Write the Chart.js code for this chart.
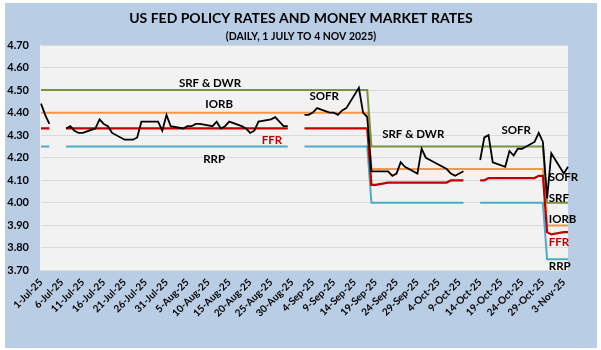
<!DOCTYPE html>
<html><head><meta charset="utf-8">
<script src="https://cdn.jsdelivr.net/npm/chart.js@4.4.1/dist/chart.umd.min.js"></script>
<style>html,body{margin:0;padding:0;background:#fff}#wrap{width:601px;height:350px}</style>
</head><body><div id="wrap"><canvas id="c" width="601" height="350"></canvas></div>
<script>
const _ = null;
const FONT = 'Lato, "Open Sans", "DejaVu Sans", sans-serif';

// Calendar categories: 1 Jul 2025 .. 4 Nov 2025 (daily)
const MONTHS = ['Jan','Feb','Mar','Apr','May','Jun','Jul','Aug','Sep','Oct','Nov','Dec'];
const categories = [];
for (let t = Date.UTC(2025,6,1); t <= Date.UTC(2025,10,4); t += 86400000) {
  const d = new Date(t);
  categories.push(d.getUTCDate() + '-' + MONTHS[d.getUTCMonth()] + '-25');
}

const xTickLabels = ['1-Jul-25','6-Jul-25','11-Jul-25','16-Jul-25','21-Jul-25','26-Jul-25','31-Jul-25',
  '5-Aug-25','10-Aug-25','15-Aug-25','20-Aug-25','25-Aug-25','30-Aug-25','4-Sep-25','9-Sep-25',
  '14-Sep-25','19-Sep-25','24-Sep-25','29-Sep-25','4-Oct-25','9-Oct-25','14-Oct-25','19-Oct-25',
  '24-Oct-25','29-Oct-25','3-Nov-25'];

// SOFR (daily, null = weekend / holiday)
const sofr = [
  // Jul
  4.44,4.39,4.35,_,_,_,4.33,4.34,4.32,4.31,4.31,_,_,4.33,4.37,4.35,4.34,4.31,_,_,4.28,4.28,4.28,4.29,4.36,_,_,4.36,4.36,4.32,4.39,
  // Aug
  4.34,_,_,4.33,4.34,4.34,4.35,4.35,_,_,4.34,4.36,4.33,4.34,4.36,_,_,4.34,4.33,4.31,4.32,4.36,_,_,4.37,4.38,4.36,4.34,4.34,_,_,
  // Sep
  _,4.39,4.39,4.40,4.42,_,_,4.40,4.40,4.39,4.41,4.42,_,_,4.51,4.40,4.38,4.14,4.14,_,_,4.14,4.12,4.13,4.18,4.16,_,_,4.13,4.24,
  // Oct
  4.20,4.19,4.18,_,_,4.15,4.13,4.12,4.13,4.14,_,_,_,4.19,4.29,4.30,4.18,_,_,4.16,4.23,4.21,4.24,4.24,_,_,4.27,4.31,4.27,4.02,4.22,
  // Nov
  _,_,4.13,4.16
];

// Effective fed funds rate
const ffr = [
  4.33,4.33,4.33,_,_,_,4.33,4.33,4.33,4.33,4.33,_,_,4.33,4.33,4.33,4.33,4.33,_,_,4.33,4.33,4.33,4.33,4.33,_,_,4.33,4.33,4.33,4.33,
  4.33,_,_,4.33,4.33,4.33,4.33,4.33,_,_,4.33,4.33,4.33,4.33,4.33,_,_,4.33,4.33,4.33,4.33,4.33,_,_,4.33,4.33,4.33,4.33,4.33,_,_,
  _,4.33,4.33,4.33,4.33,_,_,4.33,4.33,4.33,4.33,4.33,_,_,4.33,4.33,4.33,4.08,4.08,_,_,4.09,4.09,4.09,4.09,4.09,_,_,4.09,4.09,
  4.09,4.09,4.09,_,_,4.09,4.10,4.10,4.10,4.10,_,_,_,4.10,4.10,4.11,4.11,_,_,4.11,4.11,4.11,4.11,4.11,_,_,4.11,4.12,4.12,3.87,3.86,
  _,_,3.87,3.87
];

// Overnight reverse repo rate
const rrp = [
  4.25,4.25,4.25,_,_,_,4.25,4.25,4.25,4.25,4.25,_,_,4.25,4.25,4.25,4.25,4.25,_,_,4.25,4.25,4.25,4.25,4.25,_,_,4.25,4.25,4.25,4.25,
  4.25,_,_,4.25,4.25,4.25,4.25,4.25,_,_,4.25,4.25,4.25,4.25,4.25,_,_,4.25,4.25,4.25,4.25,4.25,_,_,4.25,4.25,4.25,4.25,4.25,_,_,
  _,4.25,4.25,4.25,4.25,_,_,4.25,4.25,4.25,4.25,4.25,_,_,4.25,4.25,4.25,4.00,4.00,_,_,4.00,4.00,4.00,4.00,4.00,_,_,4.00,4.00,
  4.00,4.00,4.00,_,_,4.00,4.00,4.00,4.00,4.00,_,_,_,4.00,4.00,4.00,4.00,_,_,4.00,4.00,4.00,4.00,4.00,_,_,4.00,4.00,4.00,3.75,3.75,
  _,_,3.75,3.75
];

// Standing repo facility & discount window rate
const srf = [
  4.50,4.50,4.50,4.50,_,_,4.50,4.50,4.50,4.50,4.50,_,_,4.50,4.50,4.50,4.50,4.50,_,_,4.50,4.50,4.50,4.50,4.50,_,_,4.50,4.50,4.50,4.50,
  4.50,_,_,4.50,4.50,4.50,4.50,4.50,_,_,4.50,4.50,4.50,4.50,4.50,_,_,4.50,4.50,4.50,4.50,4.50,_,_,4.50,4.50,4.50,4.50,4.50,_,_,
  4.50,4.50,4.50,4.50,4.50,_,_,4.50,4.50,4.50,4.50,4.50,_,_,4.50,4.50,4.50,4.25,4.25,_,_,4.25,4.25,4.25,4.25,4.25,_,_,4.25,4.25,
  4.25,4.25,4.25,_,_,4.25,4.25,4.25,4.25,4.25,_,_,4.25,4.25,4.25,4.25,4.25,_,_,4.25,4.25,4.25,4.25,4.25,_,_,4.25,4.25,4.25,4.00,4.00,
  _,_,4.00,4.00
];

// Interest on reserve balances
const iorb = [
  4.40,4.40,4.40,4.40,_,_,4.40,4.40,4.40,4.40,4.40,_,_,4.40,4.40,4.40,4.40,4.40,_,_,4.40,4.40,4.40,4.40,4.40,_,_,4.40,4.40,4.40,4.40,
  4.40,_,_,4.40,4.40,4.40,4.40,4.40,_,_,4.40,4.40,4.40,4.40,4.40,_,_,4.40,4.40,4.40,4.40,4.40,_,_,4.40,4.40,4.40,4.40,4.40,_,_,
  4.40,4.40,4.40,4.40,4.40,_,_,4.40,4.40,4.40,4.40,4.40,_,_,4.40,4.40,4.40,4.15,4.15,_,_,4.15,4.15,4.15,4.15,4.15,_,_,4.15,4.15,
  4.15,4.15,4.15,_,_,4.15,4.15,4.15,4.15,4.15,_,_,4.15,4.15,4.15,4.15,4.15,_,_,4.15,4.15,4.15,4.15,4.15,_,_,4.15,4.15,4.15,3.90,3.90,
  _,_,3.90,3.90
];

[sofr, ffr, rrp, srf, iorb].forEach((a, k) => {
  if (a.length !== categories.length) throw new Error('series ' + k + ' length ' + a.length + ' != ' + categories.length);
});

// text labels placed in data coordinates (x = day number from 1 Jul, y = rate)
const annotations = [
  {text: 'SRF & DWR', x: 40.4, y: 4.531},
  {text: 'IORB', x: 42.6, y: 4.438},
  {text: 'FFR', x: 55.2, y: 4.279, color: '#C00000'},
  {text: 'RRP', x: 41.4, y: 4.193},
  {text: 'SOFR', x: 67.7, y: 4.474},
  {text: 'SRF & DWR', x: 89.0, y: 4.305},
  {text: 'SOFR', x: 113.6, y: 4.323},
  {text: 'SOFR', x: 121.4, y: 4.113, align: 'left'},
  {text: 'SRF', x: 121.4, y: 4.020, align: 'left'},
  {text: 'IORB', x: 121.4, y: 3.928, align: 'left'},
  {text: 'FFR', x: 121.4, y: 3.823, align: 'left', color: '#C00000'},
  {text: 'RRP', x: 121.4, y: 3.717, align: 'left'}
];

const toPoints = arr => arr.map((v, i) => v === null ? null : {x: categories[i], y: v}).filter(p => p);

const bgPlugin = {
  id: 'bg',
  beforeDraw(chart) {
    const {ctx, chartArea: a} = chart;
    ctx.save();
    ctx.fillStyle = '#ffffff';
    ctx.fillRect(0, 0, chart.width, chart.height);
    ctx.fillStyle = '#B9CDE5';
    ctx.fillRect(5, 3, 592, 345);
    ctx.fillStyle = '#F2F2F2';
    ctx.fillRect(a.left - 1, a.top, a.right - a.left + 1, a.bottom - a.top);
    ctx.restore();
  },
  afterDraw(chart) {
    const ctx = chart.ctx;
    ctx.save();
    ctx.fillStyle = '#000';
    ctx.textAlign = 'center';
    ctx.textBaseline = 'middle';
    ctx.font = 'bold 14px ' + FONT;
    ctx.fillText('US FED POLICY RATES AND MONEY MARKET RATES', 301, 18);
    ctx.font = 'bold 10.5px ' + FONT;
    ctx.fillText('(DAILY, 1 JULY TO 4 NOV 2025)', 301, 37);
    ctx.restore();
  }
};

const labelPlugin = {
  id: 'labels',
  afterDatasetsDraw(chart) {
    const {ctx, scales} = chart;
    ctx.save();
    ctx.font = 'bold 11.5px ' + FONT;
    ctx.textBaseline = 'middle';
    annotations.forEach(a => {
      ctx.fillStyle = a.color || '#000';
      ctx.textAlign = a.align || 'center';
      ctx.fillText(a.text, scales.x.getPixelForValue(a.x), scales.y.getPixelForValue(a.y));
    });
    ctx.restore();
  }
};

const lineDs = (label, arr, color, width) => ({
  label, data: toPoints(arr), borderColor: color, backgroundColor: color,
  borderWidth: width, pointRadius: 0, tension: 0, spanGaps: 3, fill: false
});

new Chart(document.getElementById('c'), {
  type: 'line',
  data: {
    labels: categories,
    datasets: [
      lineDs('SOFR', sofr, '#000000', 1.8),
      lineDs('FFR', ffr, '#C00000', 2.2),
      lineDs('SRF & DWR', srf, '#77933C', 2),
      lineDs('IORB', iorb, '#F79646', 2),
      lineDs('RRP', rrp, '#4BACC6', 2)
    ]
  },
  options: {
    responsive: false,
    animation: false,
    layout: {padding: {top: 45, right: 33, bottom: 0, left: 0}},
    plugins: {legend: {display: false}, tooltip: {enabled: false}, title: {display: false}},
    scales: {
      x: {
        type: 'category',
        grid: {display: false, drawTicks: false},
        border: {display: false},
        ticks: {
          autoSkip: false, minRotation: 45, maxRotation: 45, padding: 6, color: '#000',
          font: {family: FONT, size: 10, weight: 'bold'},
          callback: (v, i) => xTickLabels.includes(categories[i]) ? categories[i] : ''
        },
        afterFit: s => { s.height = 79.5; }
      },
      y: {
        min: 3.7, max: 4.7,
        grid: {color: '#D9D9D9', drawTicks: false, lineWidth: 1},
        border: {display: false},
        ticks: {stepSize: 0.1, padding: 12, color: '#000', font: {family: FONT, size: 11, weight: 'bold'},
          callback: v => Number(v).toFixed(2)},
        afterFit: s => { s.width = 41; }
      }
    }
  },
  plugins: [bgPlugin, labelPlugin]
});
</script>
</body></html>
